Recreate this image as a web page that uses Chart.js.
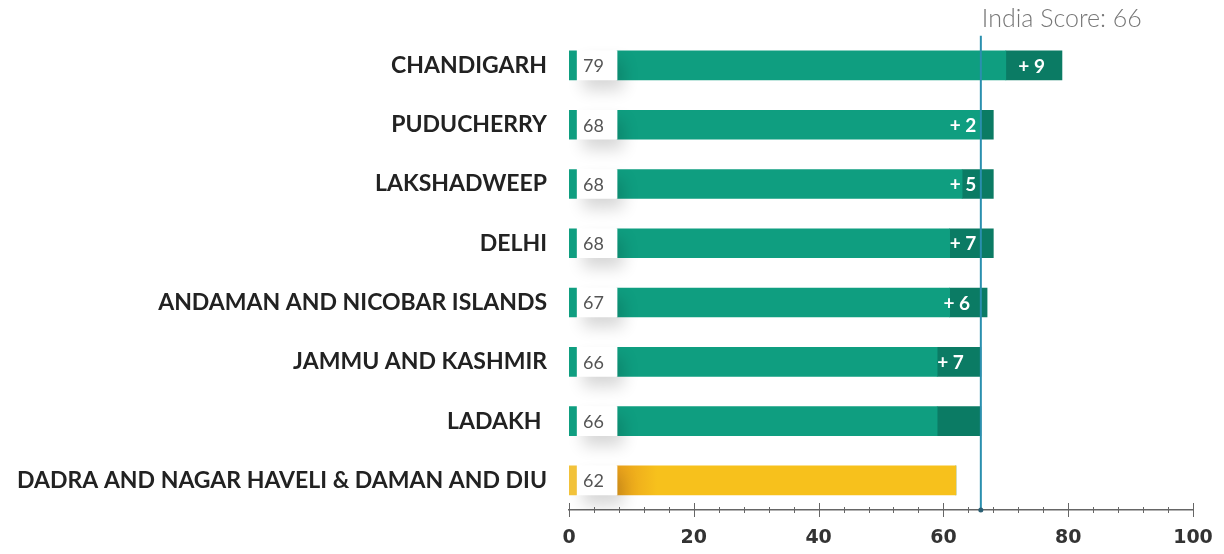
<!DOCTYPE html>
<html>
<head>
<meta charset="utf-8">
<script src="https://cdn.jsdelivr.net/npm/chart.js@4/dist/chart.umd.min.js"></script>
<style>
  html, body { margin: 0; padding: 0; background: #fff; }
  #wrap { width: 1224px; height: 554px; }
</style>
</head>
<body>
<div id="wrap"><canvas id="myChart" width="1224" height="554"></canvas></div>
<script>
const categories = [
  "CHANDIGARH",
  "PUDUCHERRY",
  "LAKSHADWEEP",
  "DELHI",
  "ANDAMAN AND NICOBAR ISLANDS",
  "JAMMU AND KASHMIR",
  "LADAKH ",
  "DADRA AND NAGAR HAVELI & DAMAN AND DIU"
];
const scores = [79, 68, 68, 68, 67, 66, 66, 62];
const changes = [9, 2, 5, 7, 6, 7, 7, 0];
const changeLabels = ["+ 9", "+ 2", "+ 5", "+ 7", "+ 6", "+ 7", "", ""];
const aboveIndia = [true, true, true, true, true, true, true, false];
const indiaScore = 66;
const xTicks = [0, 20, 40, 60, 80, 100];

// bar look
const STUB_END = 1.2;
const BOX_START = 1.3;
const BAR_START = 7.7;
const GREEN = "#0f9e80";
const GREEN_DARK = "#0b7b64";
const YELLOW = "#f7c11c";
const LINE_BLUE = "#2a8fae";

function mainColor(ctx) {
  const i = ctx.dataIndex;
  if (aboveIndia[i]) return GREEN;
  const chart = ctx.chart;
  if (!chart.chartArea) return YELLOW;
  const x0 = chart.scales.x.getPixelForValue(BAR_START);
  const g = chart.ctx.createLinearGradient(x0, 0, x0 + 40, 0);
  g.addColorStop(0, "#e9a01c");
  g.addColorStop(1, YELLOW);
  return g;
}

const overlay = {
  id: "overlay",
  beforeDatasetDraw(chart, args) {
    if (args.index === 1) {
      const ctx = chart.ctx;
      ctx.save();
      ctx.shadowColor = "rgba(0,0,0,0.16)";
      ctx.shadowBlur = 16;
      ctx.shadowOffsetX = 6;
      ctx.shadowOffsetY = 10;
    }
  },
  afterDatasetDraw(chart, args) {
    if (args.index === 1) chart.ctx.restore();
  },
  afterDraw(chart) {
    const ctx = chart.ctx;
    const x = chart.scales.x;
    const y = chart.scales.y;
    const area = chart.chartArea;
    ctx.save();

    // value and change labels
    categories.forEach((c, i) => {
      const cy = y.getPixelForValue(i);
      ctx.textBaseline = "middle";
      ctx.textAlign = "left";
      ctx.fillStyle = "#555";
      ctx.font = "18px Lato";
      ctx.fillText(String(scores[i]), x.getPixelForValue(BOX_START) + 6, cy + 1);
      if (changeLabels[i]) {
        ctx.textAlign = "right";
        ctx.fillStyle = "#ffffff";
        ctx.font = "bold 19px Lato";
        ctx.fillText(changeLabels[i], x.getPixelForValue(scores[i]) - 17, cy + 1);
      }
    });

    // axis ticks crossing the line
    ctx.strokeStyle = "#666";
    ctx.lineWidth = 1;
    for (let v = 0; v <= 100; v += 4) {
      const px = Math.round(x.getPixelForValue(v)) + 0.5;
      const major = v % 20 === 0;
      ctx.beginPath();
      ctx.moveTo(px, area.bottom - (major ? 7 : 3));
      ctx.lineTo(px, area.bottom + (major ? 7 : 3));
      ctx.stroke();
    }

    // India score line
    const ix = x.getPixelForValue(indiaScore);
    ctx.strokeStyle = LINE_BLUE;
    ctx.lineWidth = 2;
    ctx.beginPath();
    ctx.moveTo(ix, area.top);
    ctx.lineTo(ix, area.bottom);
    ctx.stroke();
    ctx.fillStyle = "#2c5f73";
    ctx.beginPath();
    ctx.arc(ix, area.bottom, 2.5, 0, Math.PI * 2);
    ctx.fill();

    ctx.fillStyle = "#777";
    ctx.font = "300 25px Lato";
    ctx.textAlign = "left";
    ctx.textBaseline = "alphabetic";
    ctx.fillText("India Score: " + indiaScore, ix + 1, 27);
    ctx.restore();
  }
};

new Chart(document.getElementById("myChart"), {
  type: "bar",
  data: {
    labels: categories,
    datasets: [
      {
        label: "stub",
        data: scores.map(() => [0, STUB_END]),
        backgroundColor: scores.map((s, i) => (aboveIndia[i] ? GREEN : "#f2c23a"))
      },
      {
        label: "box",
        data: scores.map(() => [BOX_START, BAR_START]),
        backgroundColor: "#ffffff"
      },
      {
        label: "score",
        data: scores.map((s, i) => [BAR_START, s - changes[i]]),
        backgroundColor: mainColor
      },
      {
        label: "change",
        data: scores.map((s, i) => [s - changes[i], s]),
        backgroundColor: GREEN_DARK
      }
    ]
  },
  options: {
    indexAxis: "y",
    responsive: false,
    animation: false,
    grouped: false,
    barThickness: 29,
    layout: { padding: { top: 35, right: 31, left: 0, bottom: 0 } },
    plugins: {
      legend: { display: false },
      tooltip: { enabled: false }
    },
    scales: {
      x: {
        min: 0,
        max: 100,
        grid: { display: false, drawTicks: false },
        border: { display: true, color: "#666", width: 1.5 },
        ticks: {
          stepSize: 4,
          autoSkip: false,
          maxRotation: 0,
          padding: 17,
          color: "#333",
          font: { family: "DejaVu Sans", size: 19, weight: "bold" },
          callback: (v) => (xTicks.includes(v) ? v : "")
        },
        afterFit: (scale) => {
          scale.height = 44;
          scale.paddingLeft = 0;
          scale.paddingRight = 0;
        }
      },
      y: {
        grid: { display: false, drawTicks: false },
        border: { display: false },
        ticks: {
          padding: 22,
          color: "#222",
          font: { family: "Lato", size: 23, weight: "bold" }
        },
        afterFit: (scale) => { scale.width = 569; }
      }
    }
  },
  plugins: [overlay]
});
</script>
</body>
</html>
